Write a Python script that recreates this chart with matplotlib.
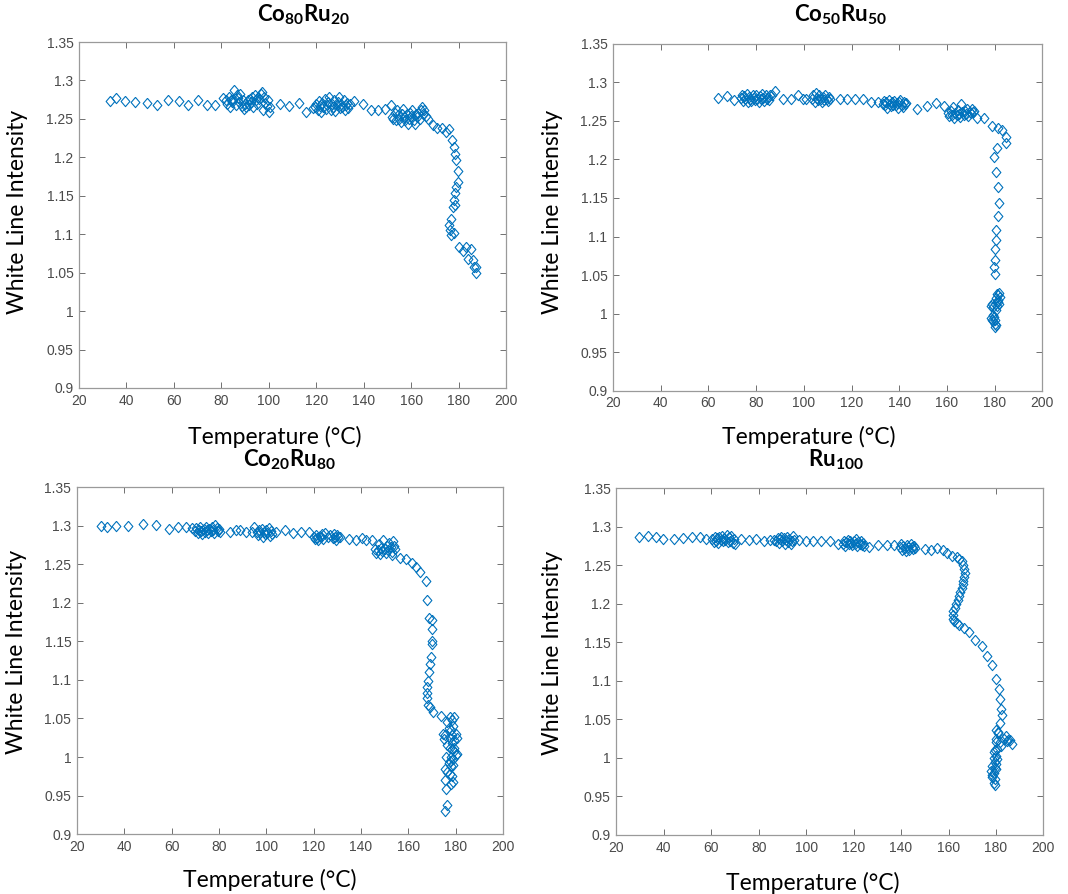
import numpy as np
import matplotlib.pyplot as plt
from matplotlib.ticker import FuncFormatter

plt.rcParams['mathtext.fontset'] = 'custom'
plt.rcParams['mathtext.rm'] = 'Lato'
plt.rcParams['mathtext.bf'] = 'Lato:bold'

# (temperature in C, white line intensity) for each composition
co80ru20 = [
    (33, 1.273), (35.5, 1.277), (39.5, 1.273), (43.5, 1.272), (48.5, 1.271), (53, 1.268),
    (57.5, 1.275), (62, 1.273), (66, 1.268), (70, 1.274), (74, 1.268), (77.5, 1.268), (80.5, 1.277),
    (82, 1.275), (82.5, 1.27), (83, 1.279), (83.5, 1.266), (84, 1.274), (84.5, 1.272), (85, 1.276),
    (85.5, 1.287), (86, 1.268), (86.5, 1.281), (87, 1.277), (87.5, 1.272), (88, 1.283), (88.5, 1.267),
    (89, 1.275), (89.5, 1.263), (90, 1.27), (90.5, 1.266), (91, 1.274), (91.5, 1.268), (92, 1.276),
    (92.5, 1.272), (93, 1.279), (93.5, 1.266), (94, 1.281), (94.5, 1.274), (95, 1.27), (95.5, 1.278),
    (96, 1.276), (96.5, 1.283), (97, 1.285), (97.5, 1.262), (98, 1.279), (98.5, 1.271), (99, 1.267),
    (99.5, 1.275), (100, 1.259), (100.5, 1.265),
    (104.5, 1.27), (108.5, 1.267), (112.5, 1.271), (115.5, 1.259), (118.5, 1.264),
    (119.5, 1.265), (120, 1.27), (120.5, 1.262), (121, 1.273), (121.5, 1.267), (122, 1.259),
    (122.5, 1.271), (123, 1.266), (123.5, 1.276), (124, 1.263), (124.5, 1.268), (125, 1.272),
    (125.5, 1.279), (126, 1.262), (126.5, 1.27), (127, 1.266), (127.5, 1.274), (128, 1.26),
    (128.5, 1.268), (129, 1.272), (129.5, 1.278), (130, 1.264), (130.5, 1.27), (131, 1.266),
    (131.5, 1.275), (132, 1.261), (132.5, 1.268), (133, 1.271), (133.5, 1.264), (134, 1.269),
    (136, 1.273), (139.5, 1.269), (143, 1.262), (146, 1.262), (149, 1.263), (151.5, 1.268),
    (152, 1.253), (152.5, 1.25), (153, 1.258), (153.5, 1.248), (154, 1.262), (154.5, 1.255),
    (155, 1.25), (155.5, 1.246), (156, 1.257), (156.5, 1.263), (157, 1.252), (157.5, 1.248),
    (158, 1.256), (158.5, 1.244), (159, 1.25), (159.5, 1.258), (160, 1.254), (160.5, 1.262),
    (161, 1.248), (161.5, 1.243), (162, 1.256), (162.5, 1.252), (163, 1.258), (163.5, 1.25),
    (164, 1.262), (164.5, 1.266), (165, 1.256), (165.5, 1.261), (166, 1.254),
    (167, 1.25), (169, 1.242), (171, 1.238), (173, 1.238), (174.5, 1.233), (175.8, 1.237),
    (177.2, 1.222), (178.2, 1.213), (178.6, 1.204), (179, 1.196), (179.6, 1.182), (179.8, 1.168),
    (179, 1.161), (178.6, 1.154), (178.2, 1.145), (177.7, 1.135), (178.3, 1.138), (176.8, 1.12),
    (176, 1.112), (176.3, 1.105), (176.8, 1.099), (178, 1.101), (180, 1.084), (181.6, 1.078),
    (183, 1.083), (183.8, 1.068), (185.2, 1.081), (186, 1.067), (186.4, 1.057), (187.1, 1.05),
    (187.4, 1.058),
]

co50ru50 = [
    (63.8, 1.28), (67.6, 1.282), (70.7, 1.277),
    (73.5, 1.28), (74, 1.284), (74.5, 1.276), (75, 1.282), (75.5, 1.278), (76, 1.285), (76.5, 1.274),
    (77, 1.281), (77.5, 1.279), (78, 1.276), (78.5, 1.283), (79, 1.28), (79.5, 1.277), (80, 1.284),
    (80.5, 1.279), (81, 1.275), (81.5, 1.282), (82, 1.278), (82.5, 1.285), (83, 1.28), (83.5, 1.276),
    (84, 1.283), (84.5, 1.279), (85, 1.281), (85.5, 1.277), (86, 1.284), (86.5, 1.283),
    (88, 1.289), (91.4, 1.278), (94.6, 1.279), (97.4, 1.283), (99.5, 1.278), (100.7, 1.279),
    (103.5, 1.278), (104, 1.283), (104.5, 1.275), (105, 1.286), (105.5, 1.28), (106, 1.277),
    (106.5, 1.283), (107, 1.279), (107.5, 1.274), (108, 1.281), (108.5, 1.277), (109, 1.283),
    (109.5, 1.279), (110, 1.276), (110.5, 1.281), (111, 1.278),
    (115, 1.278), (118.3, 1.278), (121.5, 1.279), (125, 1.279), (128.3, 1.274), (130.9, 1.274),
    (133, 1.272), (133.5, 1.276), (134, 1.27), (134.5, 1.274), (135, 1.267), (135.5, 1.277),
    (136, 1.272), (136.5, 1.269), (137, 1.274), (137.5, 1.271), (138, 1.276), (138.5, 1.27),
    (139, 1.273), (139.5, 1.267), (140, 1.275), (140.5, 1.277), (141, 1.271), (141.5, 1.268),
    (142, 1.274), (142.5, 1.272), (143, 1.273),
    (147.4, 1.265), (151.6, 1.269), (155.6, 1.273), (158.7, 1.269),
    (160.5, 1.26), (161, 1.256), (161.5, 1.263), (162, 1.258), (162.5, 1.268), (163, 1.254),
    (163.5, 1.26), (164, 1.257), (164.5, 1.264), (165, 1.259), (165.5, 1.255), (166, 1.272),
    (166.5, 1.261), (167, 1.257), (167.5, 1.263), (168, 1.259), (168.5, 1.266), (169, 1.256),
    (169.5, 1.262), (170, 1.26), (170.5, 1.265), (171, 1.261), (171.5, 1.263),
    (172.7, 1.254), (175.7, 1.254), (179, 1.244), (181.5, 1.241), (183.2, 1.238), (184.6, 1.229),
    (184.8, 1.221), (181, 1.215), (179.6, 1.203), (180.6, 1.184), (181.5, 1.164), (182, 1.144),
    (181.5, 1.126), (180.6, 1.108), (180.6, 1.095), (180.1, 1.084), (180.1, 1.069), (179.6, 1.061),
    (180.1, 1.051),
    (181, 1.026), (181.5, 1.024), (182, 1.027), (180.5, 1.02), (181.2, 1.018), (182.2, 1.022),
    (180, 1.012), (181, 1.01), (179, 1.013), (179.5, 1.008), (180.5, 1.005), (182, 1.012),
    (178.5, 1.01), (181.5, 1.015), (178.5, 0.994), (179, 0.992), (179.5, 0.99), (180, 0.987),
    (180.2, 0.992), (179.8, 0.996), (180.5, 0.985), (180.3, 0.983), (179.2, 0.998),
]

co20ru80 = [
    (30.3, 1.3), (32.7, 1.298), (36.5, 1.3), (41.7, 1.3), (47.9, 1.302), (53.5, 1.301),
    (58.7, 1.296), (62.7, 1.298), (65.9, 1.298), (68.7, 1.297),
    (70, 1.293), (70.5, 1.297), (71, 1.291), (71.5, 1.295), (72, 1.299), (72.5, 1.293), (73, 1.289),
    (73.5, 1.296), (74, 1.292), (74.5, 1.298), (75, 1.294), (75.5, 1.29), (76, 1.296), (76.5, 1.293),
    (77, 1.299), (77.5, 1.295), (78, 1.291), (78.5, 1.301), (79, 1.297), (79.5, 1.293), (80, 1.296),
    (80.5, 1.292),
    (84.5, 1.292), (87, 1.294), (89, 1.294), (91.5, 1.292), (94, 1.292), (95, 1.298),
    (96, 1.292), (96.5, 1.288), (97, 1.294), (97.5, 1.29), (98, 1.296), (98.5, 1.286), (99, 1.292),
    (99.5, 1.289), (100, 1.294), (100.5, 1.29), (101, 1.297), (101.5, 1.287), (102, 1.293),
    (102.5, 1.289),
    (104.2, 1.292), (107.7, 1.294), (111.3, 1.291), (114.8, 1.292), (118, 1.292),
    (120, 1.286), (120.5, 1.283), (121, 1.288), (121.5, 1.284), (122, 1.282), (122.5, 1.287),
    (123, 1.285), (123.5, 1.289), (124, 1.283), (125, 1.29), (126, 1.286), (127, 1.288),
    (128, 1.284), (128.5, 1.289), (129, 1.286), (129.5, 1.282), (130, 1.288), (130.5, 1.285),
    (131, 1.286),
    (134.9, 1.283), (137.7, 1.282), (140.6, 1.284), (142.3, 1.282), (144.8, 1.282),
    (146, 1.27), (146.5, 1.265), (147, 1.268), (147.5, 1.276), (148, 1.264), (148.5, 1.271),
    (149, 1.267), (149.5, 1.281), (150, 1.27), (150.5, 1.265), (151, 1.274), (151.5, 1.268),
    (152, 1.278), (152.5, 1.272), (153, 1.266), (153.5, 1.28), (154, 1.274), (154.5, 1.27),
    (153, 1.262),
    (156.3, 1.258), (158.9, 1.257), (161.7, 1.252), (163.4, 1.247), (165, 1.24), (167.3, 1.229),
    (168, 1.204), (168.7, 1.18), (169.9, 1.178), (170.1, 1.166), (170.1, 1.15), (170, 1.147),
    (169.4, 1.13), (169, 1.121), (168.7, 1.11), (168.3, 1.099), (167.9, 1.091), (167.9, 1.083),
    (167.7, 1.076), (168.3, 1.067), (169, 1.065), (170.4, 1.059), (173.9, 1.053),
    (174.5, 1.03), (175, 1.023), (175.5, 1.028), (176.5, 1.045), (177.5, 1.052), (178.5, 1.048),
    (179.5, 1.052), (177, 1.038), (178, 1.035), (179, 1.04), (180, 1.03), (177.5, 1.025),
    (178.5, 1.028), (179.5, 1.022), (180.5, 1.025), (176.5, 1.015), (177.5, 1.012), (178.5, 1.01),
    (179.5, 1.008), (180.5, 1.004), (178, 1.0), (179, 0.998), (180, 1.002), (176, 1.0),
    (177, 0.992), (178, 0.988), (179, 0.99), (175.5, 0.985), (176.5, 0.98), (177.5, 0.978),
    (178.5, 0.975), (179, 0.968), (178, 0.965), (175.5, 0.97), (176, 0.958), (176.5, 0.938),
    (175.5, 0.93), (177.5, 0.995), (178.5, 1.018), (179.5, 1.012),
]

ru100 = [
    (29.4, 1.286), (33.2, 1.288), (36.6, 1.286), (39.8, 1.284), (44.2, 1.284), (48.1, 1.285),
    (51.9, 1.286), (55.1, 1.286), (57.9, 1.284),
    (60.5, 1.284), (61, 1.28), (61.5, 1.287), (62, 1.282), (62.5, 1.285), (63, 1.279), (63.5, 1.286),
    (64, 1.283), (64.5, 1.288), (65, 1.281), (65.5, 1.285), (66, 1.283), (66.5, 1.289), (67, 1.28),
    (67.5, 1.286), (68, 1.282), (68.5, 1.288), (69, 1.279), (69.5, 1.284), (70, 1.277),
    (72.5, 1.284), (75.8, 1.283), (79, 1.284), (82.1, 1.282), (84.6, 1.283), (86.3, 1.283),
    (87.5, 1.281), (88, 1.285), (88.5, 1.279), (89, 1.284), (89.5, 1.287), (90, 1.281),
    (90.5, 1.285), (91, 1.278), (91.5, 1.283), (92, 1.286), (92.5, 1.28), (93, 1.284),
    (93.5, 1.277), (94, 1.282), (94.5, 1.288), (95, 1.283),
    (96.8, 1.283), (100, 1.282), (103.1, 1.281), (106.4, 1.281), (110.2, 1.281), (113.3, 1.278),
    (115.5, 1.278), (116, 1.282), (116.5, 1.275), (117, 1.28), (117.5, 1.283), (118, 1.277),
    (118.5, 1.281), (119, 1.279), (119.5, 1.276), (120, 1.282), (120.5, 1.278), (121, 1.284),
    (121.5, 1.275), (122, 1.28), (122.5, 1.277), (123, 1.282), (123.5, 1.276), (124, 1.279),
    (124.5, 1.275),
    (126.6, 1.274), (130.5, 1.276), (134, 1.276), (137.1, 1.276),
    (139.5, 1.274), (140, 1.277), (140.5, 1.27), (141, 1.275), (141.5, 1.272), (142, 1.269),
    (142.5, 1.276), (143, 1.273), (143.5, 1.27), (144, 1.277), (144.5, 1.274), (145, 1.271),
    (145.5, 1.275), (146, 1.272),
    (150.2, 1.271), (152.7, 1.27), (155.1, 1.272), (157.5, 1.27), (159.4, 1.266), (161.5, 1.262),
    (163.6, 1.26), (164.5, 1.258), (165.5, 1.255), (166, 1.25), (166.5, 1.245), (166.8, 1.24),
    (166.5, 1.235), (166.3, 1.23), (166, 1.225), (165.5, 1.22), (165, 1.215), (164.5, 1.21),
    (164, 1.205), (163.2, 1.2), (162.6, 1.195), (162, 1.19), (161.8, 1.185), (162, 1.18),
    (162.5, 1.177), (163.5, 1.175), (164.5, 1.172), (166.5, 1.168), (168.8, 1.163), (171.3, 1.153),
    (174.1, 1.145), (176.2, 1.132), (178.3, 1.12), (180, 1.103), (181.1, 1.089), (181.8, 1.076),
    (182.3, 1.063), (182.5, 1.056), (181.6, 1.045), (180.9, 1.032), (180, 1.036), (181, 1.033),
    (180, 1.025), (181.5, 1.02), (182, 1.015), (183.5, 1.025), (184.4, 1.029), (185, 1.023),
    (186.1, 1.023), (186.8, 1.018), (184.5, 1.022),
    (179, 1.0), (180, 1.003), (179.5, 0.995), (180.5, 0.998), (178.5, 0.99), (179.5, 0.987),
    (178, 0.983), (179, 0.98), (180, 0.985), (178.5, 0.975), (179.5, 0.972), (179, 0.968),
    (179.5, 0.965), (178.5, 0.978), (180, 0.992), (179.5, 1.01), (180.5, 1.012), (180, 1.02),
    (179, 1.008),
]

panels = [
    (co80ru20, r'Co$_\mathbf{80}$Ru$_\mathbf{20}$'),
    (co50ru50, r'Co$_\mathbf{50}$Ru$_\mathbf{50}$'),
    (co20ru80, r'Co$_\mathbf{20}$Ru$_\mathbf{80}$'),
    (ru100, r'Ru$_\mathbf{100}$'),
]

# axes rectangles and label anchors (axes fraction)
rects = [
    [0.074, 0.566, 0.400, 0.387],
    [0.574, 0.563, 0.402, 0.388],
    [0.072, 0.067, 0.399, 0.388],
    [0.577, 0.066, 0.400, 0.388],
]
title_xy = [(0.525, 1.055), (0.529, 1.06), (0.50, 1.055), (0.513, 1.058)]
xlabel_xy = [(0.459, -0.142), (0.455, -0.133), (0.453, -0.133), (0.459, -0.138)]
ylabel_xy = [(-0.143, 0.509), (-0.142, 0.516), (-0.141, 0.524), (-0.150, 0.524)]

blue = '#0072BD'
diamond = [(0, 1), (0.85, 0), (0, -1), (-0.85, 0), (0, 1)]

fig = plt.figure(figsize=(10.68, 8.94), dpi=100)

for i, (data, title) in enumerate(panels):
    ax = fig.add_axes(rects[i])
    T, I = np.array(data).T
    ax.plot(T, I, linestyle='none', marker=diamond, markersize=7.4,
            markerfacecolor='none', markeredgecolor=blue, markeredgewidth=0.8)

    ax.set_xlim(20, 200)
    ax.set_ylim(0.9, 1.35)
    ax.set_xticks(np.arange(20, 201, 20))
    ax.set_yticks(np.arange(0.9, 1.351, 0.05))
    ax.yaxis.set_major_formatter(FuncFormatter(lambda v, p: '%g' % round(v, 2)))

    ax.tick_params(direction='in', top=True, right=True, length=4, width=0.7,
                   color='#707070', labelcolor='#4a4a4a', labelsize=10, pad=4)
    for lab in ax.get_xticklabels() + ax.get_yticklabels():
        lab.set_fontfamily('Liberation Sans')
    for s in ax.spines.values():
        s.set_color('#9a9a9a')
        s.set_linewidth(0.9)

    t = ax.set_title(title, fontsize=16, fontweight='bold', family='Lato',
                     va='center', y=title_xy[i][1])
    t.set_x(title_xy[i][0])

    ax.set_xlabel('Temperature (°C)', fontsize=16.5, family='Lato', va='center')
    ax.xaxis.set_label_coords(*xlabel_xy[i])
    ax.set_ylabel('White Line Intensity', fontsize=16.5, family='Lato', va='center')
    ax.yaxis.set_label_coords(*ylabel_xy[i])

fig.savefig('out.png', dpi=100)
